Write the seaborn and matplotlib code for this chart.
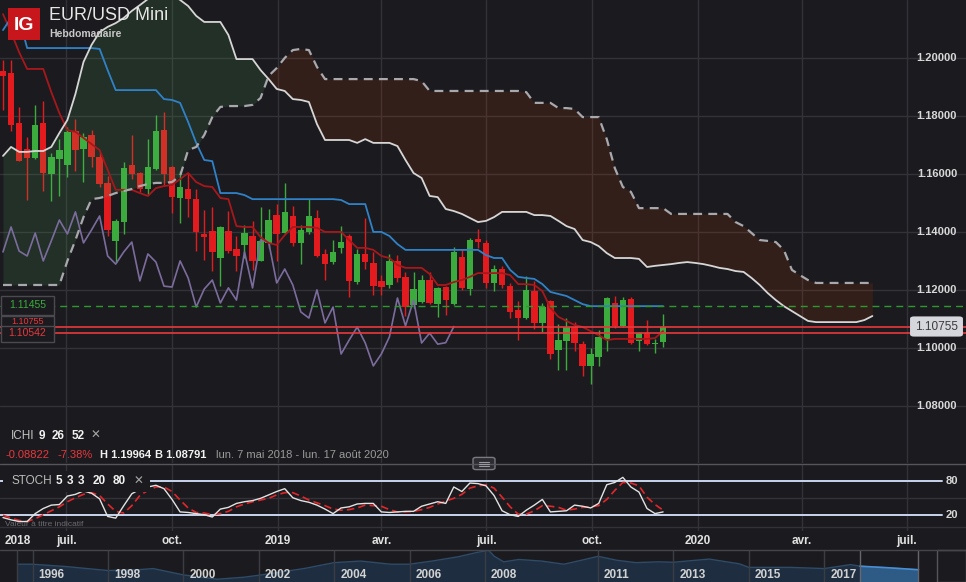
import numpy as np
import pandas as pd
import matplotlib
matplotlib.use("Agg")
import matplotlib.pyplot as plt
import matplotlib.dates as mdates
import matplotlib.transforms as mtrans
from matplotlib.patches import Rectangle, FancyBboxPatch
import seaborn as sns

# ---------------- data ----------------
first_week = "2018-05-07"

open_ = [1.19577, 1.1950, 1.1778, 1.1688, 1.1657, 1.1778, 1.1602, 1.1653, 1.1633, 1.1750,
         1.1688, 1.1736, 1.1660, 1.1571, 1.1371, 1.1436, 1.1633, 1.1605, 1.1550, 1.1619,
         1.1753, 1.1626, 1.1519, 1.1550, 1.1515, 1.1395, 1.1405, 1.1312, 1.1405, 1.1343,
         1.1357, 1.1388, 1.1302, 1.1364, 1.1460, 1.1398, 1.1457, 1.1364, 1.1402, 1.1450,
         1.1326, 1.1298, 1.1347, 1.1388, 1.1229, 1.1326, 1.1295, 1.1233, 1.1219, 1.1302,
         1.1247, 1.1150, 1.1160, 1.1236, 1.1153, 1.1212, 1.1153, 1.1316, 1.1205, 1.1378,
         1.1364, 1.1226, 1.1274, 1.1215, 1.1133, 1.1105, 1.1198, 1.1088, 1.1164, 1.0995,
         1.1026, 1.1074, 1.1015, 1.0940, 1.0971, 1.1033, 1.1157, 1.1078, 1.1171, 1.1026,
         1.1053, 1.1015, 1.1022]
high = [1.1995, 1.19964, 1.1833, 1.1729, 1.1840, 1.1853, 1.1674, 1.1722, 1.1764, 1.1791,
        1.1743, 1.1753, 1.1678, 1.1595, 1.1446, 1.1643, 1.1736, 1.1609, 1.1722, 1.1805,
        1.1816, 1.1629, 1.1612, 1.1605, 1.1550, 1.1478, 1.1488, 1.1422, 1.1474, 1.1388,
        1.1426, 1.1440, 1.1488, 1.1481, 1.1498, 1.1571, 1.1491, 1.1426, 1.1515, 1.1478,
        1.1343, 1.1374, 1.1422, 1.1395, 1.1343, 1.1450, 1.1333, 1.1253, 1.1326, 1.1322,
        1.1264, 1.1264, 1.1253, 1.1264, 1.1212, 1.1216, 1.1350, 1.1343, 1.1381, 1.1412,
        1.1374, 1.1288, 1.1285, 1.1226, 1.1164, 1.1250, 1.1233, 1.1157, 1.1167, 1.1084,
        1.1105, 1.1091, 1.1026, 1.1002, 1.1064, 1.1178, 1.1181, 1.1178, 1.1178, 1.1057,
        1.1098, 1.1033, 1.1119]
low = [1.1822, 1.1750, 1.1645, 1.1512, 1.1653, 1.1543, 1.1509, 1.1526, 1.1591, 1.1612,
       1.1574, 1.1626, 1.1557, 1.1388, 1.1298, 1.1395, 1.1584, 1.1540, 1.1529, 1.1615,
       1.1564, 1.1467, 1.1433, 1.1453, 1.1336, 1.1305, 1.1267, 1.1215, 1.1329, 1.1267,
       1.1312, 1.1271, 1.1300, 1.1347, 1.1302, 1.1395, 1.1353, 1.1291, 1.1395, 1.1317,
       1.1236, 1.1291, 1.1329, 1.1178, 1.1222, 1.1274, 1.1184, 1.1184, 1.1210, 1.1229,
       1.1112, 1.1140, 1.1158, 1.1155, 1.1109, 1.1116, 1.1150, 1.1202, 1.1184, 1.1347,
       1.1209, 1.1198, 1.1209, 1.1105, 1.1029, 1.1102, 1.1067, 1.1057, 1.0964, 1.0926,
       1.0926, 1.0991, 1.0905, 1.08791, 1.0940, 1.0991, 1.1071, 1.1074, 1.1015, 1.0991,
       1.1012, 1.0984, 1.1005]
close = [1.1940, 1.1771, 1.1647, 1.1657, 1.1771, 1.1605, 1.1660, 1.1684, 1.1747, 1.1684,
         1.1729, 1.1660, 1.1567, 1.1409, 1.1440, 1.1622, 1.1602, 1.1550, 1.1626, 1.1750,
         1.1602, 1.1522, 1.1557, 1.1515, 1.1402, 1.1384, 1.1333, 1.1419, 1.1336, 1.1319,
         1.1398, 1.1302, 1.1371, 1.1443, 1.1395, 1.1471, 1.1364, 1.1409, 1.1457, 1.1319,
         1.1291, 1.1333, 1.1367, 1.1233, 1.1326, 1.1298, 1.1215, 1.1212, 1.1302, 1.1243,
         1.1143, 1.1205, 1.1236, 1.1157, 1.1209, 1.1167, 1.1333, 1.1209, 1.1374, 1.1367,
         1.1226, 1.1274, 1.1219, 1.1126, 1.1105, 1.1202, 1.1088, 1.1143, 1.0981, 1.1029,
         1.1074, 1.1019, 1.0940, 1.0981, 1.1040, 1.1174, 1.1078, 1.1167, 1.1019, 1.1053,
         1.1015, 1.1020, 1.10755]

tenkan = [1.2153, 1.2091, 1.2022, 1.1964, 1.1964, 1.1964, 1.1884, 1.1812, 1.1753, 1.1747,
          1.1726, 1.1705, 1.1684, 1.1616, 1.1547, 1.1547, 1.1547, 1.1536, 1.1526, 1.1553,
          1.1560, 1.1564, 1.1584, 1.1605, 1.1574, 1.1560, 1.1557, 1.1519, 1.1515, 1.1422,
          1.1419, 1.1419, 1.1384, 1.1364, 1.1357, 1.1391, 1.1419, 1.1419, 1.1419, 1.1416,
          1.1402, 1.1402, 1.1402, 1.1374, 1.1347, 1.1347, 1.1340, 1.1319, 1.1312, 1.1288,
          1.1278, 1.1278, 1.1278, 1.1257, 1.1219, 1.1219, 1.1229, 1.1236, 1.1247, 1.1260,
          1.1260, 1.1260, 1.1260, 1.1253, 1.1222, 1.1222, 1.1219, 1.1198, 1.1140, 1.1109,
          1.1095, 1.1081, 1.1074, 1.1060, 1.1046, 1.1029, 1.1033, 1.1033, 1.1033, 1.1033,
          1.1033, 1.1036, 1.1060]
kijun = [1.2098, 1.2140, 1.2140, 1.2036, 1.2036, 1.2036, 1.2036, 1.2036, 1.2036, 1.2036,
         1.2036, 1.2036, 1.2033, 1.1960, 1.1891, 1.1891, 1.1891, 1.1891, 1.1891, 1.1891,
         1.1860, 1.1857, 1.1847, 1.1781, 1.1709, 1.1650, 1.1646, 1.1536, 1.1536, 1.1536,
         1.1529, 1.1515, 1.1515, 1.1515, 1.1515, 1.1515, 1.1515, 1.1515, 1.1515, 1.1515,
         1.1515, 1.1515, 1.1512, 1.1498, 1.1498, 1.1498, 1.1402, 1.1402, 1.1388, 1.1360,
         1.1340, 1.1340, 1.1340, 1.1340, 1.1340, 1.1340, 1.1340, 1.1340, 1.1340, 1.1340,
         1.1322, 1.1312, 1.1312, 1.1271, 1.1247, 1.1243, 1.1240, 1.1222, 1.1195, 1.1188,
         1.1181, 1.1167, 1.1153, 1.1146, 1.1146, 1.1146, 1.1146, 1.1146, 1.1146, 1.1146,
         1.1146, 1.1146, 1.1146]
senkou_a = [1.1664, 1.1695, 1.1678, 1.1678, 1.1681, 1.1681, 1.1695, 1.1743, 1.1788, 1.1878,
            1.1988, 1.2047, 1.2091, 1.2109, 1.2122, 1.2140, 1.2164, 1.2184, 1.2205, 1.2222,
            1.2229, 1.2219, 1.2202, 1.2181, 1.2147, 1.2126, 1.2126, 1.2126, 1.2081, 1.1998,
            1.1998, 1.1998, 1.1960, 1.1929, 1.1895, 1.1888, 1.1860, 1.1857, 1.1850, 1.1774,
            1.1719, 1.1719, 1.1719, 1.1719, 1.1709, 1.1722, 1.1709, 1.1709, 1.1709, 1.1698,
            1.1650, 1.1605, 1.1588, 1.1526, 1.1522, 1.1481, 1.1474, 1.1464, 1.1450, 1.1436,
            1.1440, 1.1453, 1.1471, 1.1471, 1.1471, 1.1471, 1.1460, 1.1460, 1.1457, 1.1440,
            1.1422, 1.1412, 1.1374, 1.1367, 1.1353, 1.1329, 1.1312, 1.1312, 1.1312, 1.1309,
            1.1281, 1.1285, 1.1288, 1.1291, 1.1295, 1.1298, 1.1295, 1.1291, 1.1285, 1.1278,
            1.1274, 1.1267, 1.1264, 1.1243, 1.1219, 1.1191, 1.1167, 1.1146, 1.1129, 1.1112,
            1.1095, 1.1091, 1.1091, 1.1091, 1.1091, 1.1091, 1.1091, 1.1098, 1.1112]
senkou_b = [1.1219, 1.1219, 1.1219, 1.1219, 1.1219, 1.1219, 1.1219, 1.1219, 1.1302, 1.1374,
            1.1453, 1.1515, 1.1519, 1.1526, 1.1536, 1.1543, 1.1550, 1.1560, 1.1567, 1.1571,
            1.1571, 1.1574, 1.1595, 1.1684, 1.1695, 1.1736, 1.1798, 1.1833, 1.1836, 1.1836,
            1.1836, 1.1840, 1.1864, 1.1940, 1.1967, 1.2002, 1.2029, 1.2033, 1.2029, 1.1971,
            1.1929, 1.1929, 1.1929, 1.1929, 1.1929, 1.1929, 1.1929, 1.1929, 1.1929, 1.1929,
            1.1929, 1.1929, 1.1922, 1.1888, 1.1888, 1.1888, 1.1888, 1.1888, 1.1888, 1.1888,
            1.1888, 1.1888, 1.1888, 1.1888, 1.1888, 1.1884, 1.1847, 1.1847, 1.1847, 1.1829,
            1.1829, 1.1826, 1.1798, 1.1798, 1.1798, 1.1722, 1.1622, 1.1557, 1.1540, 1.1484,
            1.1484, 1.1484, 1.1484, 1.1464, 1.1464, 1.1464, 1.1464, 1.1464, 1.1464, 1.1464,
            1.1464, 1.1436, 1.1422, 1.1398, 1.1374, 1.1371, 1.1367, 1.1340, 1.1271, 1.1253,
            1.1236, 1.1226, 1.1226, 1.1226, 1.1226, 1.1226, 1.1226, 1.1226, 1.1226]
chikou_shift = 26

stoch_k = [16, 12, 9, 9, 23, 32, 38, 39, 54, 57,
           63, 59, 49, 18, 15, 37, 58, 66, 70, 73,
           67, 48, 26, 25, 23, 21, 17, 31, 34, 41,
           44, 46, 50, 56, 62, 67, 51, 46, 43, 38,
           31, 23, 33, 35, 40, 41, 41, 26, 25, 26,
           27, 27, 36, 40, 44, 41, 70, 62, 77, 76,
           72, 55, 28, 21, 18, 29, 38, 48, 26, 27,
           28, 38, 36, 33, 41, 74, 78, 87, 70, 61,
           32, 23, 26]
stoch_d = [20, 15, 11, 9, 14, 21, 28, 35, 44, 51,
           57, 60, 55, 40, 27, 24, 37, 55, 64, 70,
           70, 62, 47, 33, 25, 24, 21, 23, 27, 35,
           40, 44, 47, 50, 56, 60, 60, 54, 47, 42,
           37, 31, 29, 30, 33, 38, 37, 36, 30, 26,
           26, 27, 30, 34, 40, 45, 50, 57, 68, 72,
           74, 68, 52, 35, 22, 22, 28, 37, 36, 34,
           29, 31, 34, 35, 37, 48, 64, 78, 77, 72,
           52, 39, 29]

price_ticks = [1.08, 1.10, 1.12, 1.14, 1.16, 1.18, 1.20]
last_price = 1.10755
second_line = 1.10542
kijun_level = 1.11455
stats = ["-0.08822", "-7.38%", "H 1.19964", "B 1.08791", "lun. 7 mai 2018 - lun. 17 août 2020"]

month_ticks = ["2018-07-01", "2018-10-01", "2019-01-01", "2019-04-01", "2019-07-01",
               "2019-10-01", "2020-01-01", "2020-04-01", "2020-07-01"]
month_labels = ["juil.", "oct.", "2019", "avr.", "juil.", "oct.", "2020", "avr.", "juil."]

nav_year = [1995.6, 1996.0, 1996.9, 1998.0, 1998.8, 1999.2, 2000.0, 2000.9, 2001.6, 2002.0,
            2003.2, 2004.0, 2004.7, 2005.5, 2006.0, 2006.6, 2007.3, 2007.8, 2008.1, 2008.25,
            2008.5, 2008.9, 2009.5, 2010.1, 2010.65, 2011.0, 2011.5, 2012.0, 2012.6, 2013.0,
            2013.95, 2014.75, 2015.0, 2016.1, 2017.0, 2017.7, 2017.95, 2018.7, 2019.5]
nav_value = [1.25, 1.25, 1.19, 1.09, 1.11, 1.14, 0.98, 0.87, 0.92, 0.97,
             1.14, 1.29, 1.33, 1.25, 1.25, 1.33, 1.44, 1.55, 1.60, 1.45,
             1.31, 1.37, 1.33, 1.25, 1.37, 1.45, 1.35, 1.29, 1.31, 1.30,
             1.38, 1.26, 1.17, 1.17, 1.14, 1.24, 1.20, 1.16, 1.11]
nav_tick_years = [1996, 1998, 2000, 2002, 2004, 2006, 2008, 2011, 2013, 2015, 2017]
nav_selection = (2017.95, 2019.5)

# ---------------- style ----------------
sns.set_theme(style="dark")
plt.rcParams["font.family"] = ["Liberation Sans", "DejaVu Sans"]

BG = "#1b1b1f"
GRID = "#323238"
GREEN = "#3aab3c"
RED = "#e31b1e"
W, H = 966, 582
PX_PER_DAY = 8.05 / 7.0

fig = plt.figure(figsize=(W / 100, H / 100), dpi=100, facecolor=BG)


def axrect(top, bottom):
    return [0, 1 - bottom / H, 1, (bottom - top) / H]


ax = fig.add_axes(axrect(0, 463))
axs = fig.add_axes(axrect(465, 531))
axn = fig.add_axes(axrect(550, 582))
for a in (ax, axs, axn):
    a.set_axis_off()

cdates = mdates.date2num(pd.date_range(first_week, periods=len(close), freq="7D"))
cloud_dates = mdates.date2num(pd.date_range(first_week, periods=len(senkou_a), freq="7D"))
x_left = cdates[0] - 3 / PX_PER_DAY
x_right = x_left + W / PX_PER_DAY
y_top = 1.22017
y_bot = y_top - 463 / 2900.0

for a in (ax, axs):
    a.set_xlim(x_left, x_right)
ax.set_ylim(y_bot, y_top)
axs.set_ylim(-7.7, 108.8)

mt = mdates.date2num(pd.to_datetime(month_ticks))

# gridlines
for p in price_ticks:
    ax.axhline(p, color=GRID, lw=1, zorder=0)
for m in mt:
    ax.axvline(m, color=GRID, lw=1, zorder=0)
    axs.axvline(m, color=GRID, lw=1, zorder=0)
for s in (0, 50):
    axs.axhline(s, color=GRID, lw=1, zorder=0)

# candles
o = np.array(open_); h = np.array(high); l = np.array(low); c = np.array(close)
cols = np.where(c >= o, GREEN, RED)
ax.vlines(cdates, l, h, colors=cols, lw=1.0, zorder=2)
body = np.maximum(np.abs(c - o), 0.0003)
ax.bar(cdates, body, bottom=np.minimum(o, c), width=5.6, color=cols, linewidth=0, zorder=3)

# cloud
A = np.array(senkou_a); B = np.array(senkou_b)
ax.fill_between(cloud_dates, A, B, where=A >= B, interpolate=True, color="#57cb64", alpha=0.12, lw=0, zorder=4)
ax.fill_between(cloud_dates, A, B, where=A < B, interpolate=True, color="#dc3a00", alpha=0.13, lw=0, zorder=4)

# ichimoku lines
sns.lineplot(x=cdates[:len(close) - chikou_shift], y=c[chikou_shift:], ax=ax, color="#7c6c9e", lw=1.2, zorder=5)
sns.lineplot(x=cdates, y=tenkan, ax=ax, color="#a8171b", lw=1.3, zorder=5)
sns.lineplot(x=cdates, y=kijun, ax=ax, color="#2f82c8", lw=1.3, zorder=5)
sns.lineplot(x=cloud_dates, y=senkou_a, ax=ax, color="#d6d6d6", lw=1.3, zorder=5)
sns.lineplot(x=cloud_dates, y=senkou_b, ax=ax, color="#a9a9ad", lw=1.6, zorder=5)
ax.get_lines()[-1].set_dashes([4, 2.8])

# horizontal levels
ax.axhline(last_price, color="#e8383d", lw=1.2, zorder=6)
ax.axhline(second_line, color="#e8383d", lw=1.2, zorder=6)
kl = ax.axhline(kijun_level, color="#2c9a2c", lw=1.0, zorder=6)
kl.set_dashes([5, 3.6])

# stochastic
axs.plot([x_left, x_left + 942 / PX_PER_DAY], [80, 80], color="#c8d6ee", lw=1.4, zorder=2)
axs.plot([x_left, x_left + 942 / PX_PER_DAY], [20, 20], color="#c8d6ee", lw=1.4, zorder=2)
sns.lineplot(x=cdates, y=stoch_k, ax=axs, color="#e2e2e2", lw=1.0, zorder=4)
sns.lineplot(x=cdates, y=stoch_d, ax=axs, color="#e3262a", lw=1.2, zorder=3)
axs.get_lines()[-1].set_dashes([4.5, 2.5])

# navigator
ny = np.array(nav_year); nv = np.array(nav_value)
px_per_year = 37.7
n_left = 1996 - 32.5 / px_per_year
axn.set_xlim(n_left, n_left + W / px_per_year)
axn.set_ylim(0.80, 1.61)
axn.fill_between(ny, nv, 0.80, color="#1e2e40", lw=0, zorder=1)
axn.plot(ny, nv, color="#2e4b68", lw=1.0, zorder=2)
sel = ny >= nav_selection[0]
axn.fill_between(ny[sel], nv[sel], 0.80, color="#2e5a86", lw=0, zorder=2)
axn.plot(ny[sel], nv[sel], color="#4a8fd4", lw=1.2, zorder=3)
for yv in [nav_year[0]] + nav_tick_years:
    axn.axvline(yv, color="#3c3c44", lw=1, zorder=3)
for yv in nav_selection:
    axn.axvline(yv, color="#66666e", lw=1, zorder=3)
for yv in nav_tick_years:
    axn.text(yv + 0.16, 0.97, str(yv), color="#d2d2d2", fontsize=8.5, fontweight="bold",
             ha="left", va="center", zorder=5)

# ---------------- figure-level decorations ----------------
def fx(px):
    return px / W


def fy(py):
    return 1 - py / H


def frect(x0, y0, x1, y1, **kw):
    r = Rectangle((fx(x0), fy(y1)), fx(x1) - fx(x0), fy(y0) - fy(y1), transform=fig.transFigure, **kw)
    fig.add_artist(r)
    return r


# separator lines
fig.add_artist(plt.Line2D([0, 1], [fy(463.5), fy(463.5)], transform=fig.transFigure, color="#55555c", lw=1))
fig.add_artist(plt.Line2D([0, 1], [fy(550), fy(550)], transform=fig.transFigure, color="#45454c", lw=1))
frect(937, 550, 966, 582, facecolor=BG, edgecolor="#55555c", lw=1)

# handle icon
hb = FancyBboxPatch((fx(474), fy(469)), fx(20), 11 / H, boxstyle="round,pad=0.001,rounding_size=0.003",
                    transform=fig.transFigure, facecolor="#2c2c32", edgecolor="#7a7a80", lw=1)
fig.add_artist(hb)
for yy in (461.5, 463.5, 465.5):
    fig.add_artist(plt.Line2D([fx(479), fx(489)], [fy(yy), fy(yy)], transform=fig.transFigure, color="#9a9aa0", lw=0.8))

# logo and title
frect(8, 8, 40, 40, facecolor="#c8161d", edgecolor="none")
fig.text(fx(24), fy(25), "IG", color="white", fontsize=14, fontweight="bold", ha="center", va="center")
fig.text(fx(49), fy(16), "EUR/USD Mini", color="#e6e6e6", fontsize=13, ha="left", va="center")
fig.text(fx(49), fy(34), "Hebdomadaire", color="#c8c8c8", fontsize=7.5, fontweight="bold", ha="left", va="center")

# right price axis labels
tr_main = mtrans.blended_transform_factory(fig.transFigure, ax.transData)
for p in price_ticks:
    ax.text(fx(957), p, f"{p:.5f}", transform=tr_main, color="#d8d8d8", fontsize=8, fontweight="bold",
            ha="right", va="center", zorder=10)
lab = FancyBboxPatch((fx(911), fy(336)), fx(51), 19 / H, boxstyle="round,pad=0.001,rounding_size=0.004",
                     transform=fig.transFigure, facecolor="#d6d6dd", edgecolor="none")
fig.add_artist(lab)
fig.text(fx(936.5), fy(326.5), f"{last_price:.5f}", color="#3a3a3a", fontsize=8.5, ha="center", va="center")

# left level labels (the last-price label sits mostly hidden behind the second one)
frect(1, 296, 54, 315, facecolor=BG, edgecolor="#4a4a50", lw=1)
fig.text(fx(27.5), fy(305.5), f"{kijun_level:.5f}", color="#3aab3c", fontsize=7.5, ha="center", va="center")
frect(1, 316, 54, 330, facecolor=BG, edgecolor="#4a4a50", lw=1)
fig.text(fx(27.5), fy(321.5), f"{last_price:.5f}", color="#e8383d", fontsize=6.5, ha="center", va="center")
frect(1, 325.5, 54, 342, facecolor=BG, edgecolor="#4a4a50", lw=1, zorder=4)
fig.text(fx(27.5), fy(333.5), f"{second_line:.5f}", color="#e8383d", fontsize=7.5, ha="center", va="center", zorder=5)

# indicator legends
fs = 8.5
fig.text(fx(11), fy(436), "ICHI", color="#c4c4c4", fontsize=fs, ha="left", va="center")
for xx, t in [(39, "9"), (52, "26"), (72, "52")]:
    fig.text(fx(xx), fy(436), t, color="#f2f2f2", fontsize=fs, fontweight="bold", ha="left", va="center")
fig.text(fx(91), fy(436), "✕", color="#a8a8a8", fontsize=fs, fontweight="bold", ha="left", va="center")

fig.text(fx(6), fy(455), stats[0], color="#e8383d", fontsize=8, ha="left", va="center")
fig.text(fx(57), fy(455), stats[1], color="#e8383d", fontsize=8, ha="left", va="center")
fig.text(fx(100), fy(455), stats[2], color="#f2f2f2", fontsize=8, fontweight="bold", ha="left", va="center")
fig.text(fx(155), fy(455), stats[3], color="#f2f2f2", fontsize=8, fontweight="bold", ha="left", va="center")
fig.text(fx(216), fy(455), stats[4], color="#9a9a9a", fontsize=8, ha="left", va="center")

frect(3, 471, 150, 492, facecolor=BG, edgecolor="none", zorder=2)
fig.text(fx(11), fy(481.5), "STOCH", color="#bcbcbc", fontsize=fs, ha="left", va="center", zorder=6)
for xx, t in [(56, "5"), (67, "3"), (78, "3"), (93, "20"), (113, "80")]:
    fig.text(fx(xx), fy(481.5), t, color="#f2f2f2", fontsize=fs, fontweight="bold", ha="left", va="center", zorder=6)
fig.text(fx(134), fy(481.5), "✕", color="#a8a8a8", fontsize=fs, fontweight="bold", ha="left", va="center", zorder=6)
fig.text(fx(5), fy(525), "Valeur à titre indicatif", color="#6c6c70", fontsize=6, ha="left", va="center")

tr_st = mtrans.blended_transform_factory(fig.transFigure, axs.transData)
for s in (80, 20):
    axs.text(fx(958), s, str(s), transform=tr_st, color="#d8d8d8", fontsize=8, fontweight="bold",
             ha="right", va="center")

# date labels
tr_dates = mtrans.blended_transform_factory(ax.transData, fig.transFigure)
fig.text(fx(5), fy(541), "2018", color="#e2e2e2", fontsize=8.5, fontweight="bold", ha="left", va="center")
for m, t in zip(mt, month_labels):
    ax.text(m, fy(541), t, transform=tr_dates, color="#e2e2e2", fontsize=8.5, fontweight="bold",
            ha="center", va="center", clip_on=False)

fig.savefig("out.png", dpi=100, facecolor=BG)
